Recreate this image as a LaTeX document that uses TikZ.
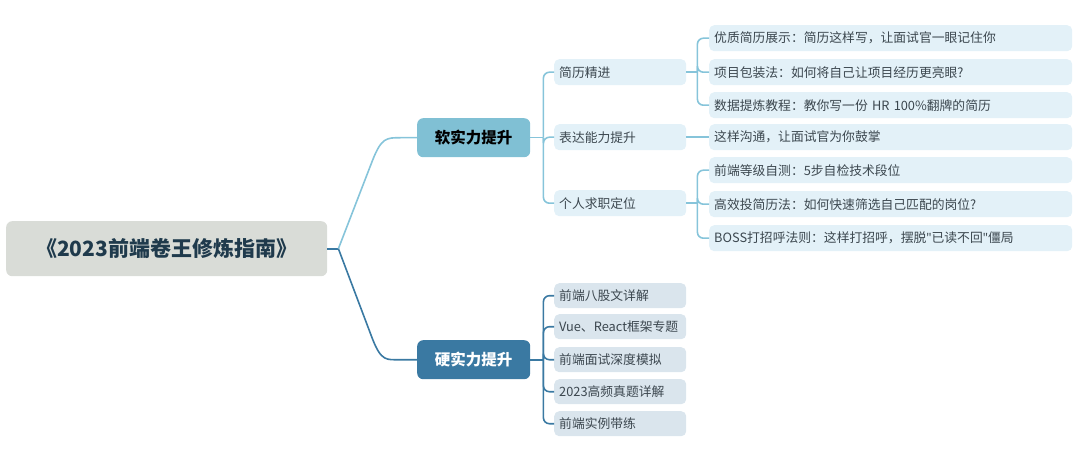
\documentclass[tikz,border=0pt]{standalone}
\usepackage{fontspec}
\setmainfont{Noto Sans CJK SC}
\newfontfamily\latq{Noto Sans}
\usetikzlibrary{calc}
\definecolor{rootfill}{HTML}{D9DCD7}
\definecolor{roottext}{HTML}{1F3A4C}
\definecolor{softfill}{HTML}{80C0D4}
\definecolor{hardfill}{HTML}{3A79A2}
\definecolor{lightline}{HTML}{86C4DA}
\definecolor{darkline}{HTML}{3A79A2}
\definecolor{upfill}{HTML}{E3F1F8}
\definecolor{lowfill}{HTML}{DAE5ED}
\definecolor{txt}{HTML}{3C474F}
\tikzset{
  box/.style={rounded corners=5pt, anchor=north west, inner xsep=5pt, inner ysep=0pt,
    align=left, font=\fontsize{12.8}{15}\selectfont, text=txt},
  lthree/.style={box, fill=upfill, text width=353pt, minimum height=26pt},
  ltwoup/.style={box, fill=upfill, text width=122pt, minimum height=26pt},
  ltwolow/.style={box, fill=lowfill, text width=122pt, minimum height=25pt},
  lone/.style={rounded corners=6pt, anchor=north west, inner sep=0pt, minimum width=113pt,
    minimum height=39pt, font=\fontsize{15.5}{18}\selectfont\bfseries},
  lnk/.style={line width=1.6pt, rounded corners=6pt},
  ln/.style={line width=1.6pt},
}
\begin{document}
\begin{tikzpicture}[x=1pt,y=-1pt]
\useasboundingbox (0,0) rectangle (1080,468);
% root
\node[rounded corners=6pt, fill=rootfill, anchor=north west, minimum width=321pt, minimum height=55pt,
  inner sep=0pt, text=roottext, font=\fontsize{21}{24}\selectfont\bfseries] (root) at (6,221) {《2023前端卷王修炼指南》};
% level 1
\node[lone, fill=softfill, text=black] (soft) at (417,118) {软实力提升};
\node[lone, fill=hardfill, text=white] (hard) at (417,340) {硬实力提升};
% level 2 upper
\node[ltwoup] (s1) at (554,59) {简历精进};
\node[ltwoup] (s2) at (554,124) {表达能力提升};
\node[ltwoup] (s3) at (554,190) {个人求职定位};
% level 3
\node[lthree] (a1) at (709,25) {优质简历展示：简历这样写，让面试官一眼记住你};
\node[lthree] (a2) at (709,59) {项目包装法：如何将自己让项目经历更亮眼?};
\node[lthree] (a3) at (709,92) {数据提炼教程：教你写一份 HR 100\%翻牌的简历};
\node[lthree] (b1) at (709,124) {这样沟通，让面试官为你鼓掌};
\node[lthree] (c1) at (709,157) {前端等级自测：5步自检技术段位};
\node[lthree] (c2) at (709,191) {高效投简历法：如何快速筛选自己匹配的岗位?};
\node[lthree] (c3) at (709,225) {BOSS打招呼法则：这样打招呼，摆脱{\latq\char"0022}已读不回{\latq\char"0022}僵局};
% level 2 lower
\node[ltwolow] (h1) at (554,283) {前端八股文详解};
\node[ltwolow] (h2) at (554,314) {Vue、React框架专题};
\node[ltwolow] (h3) at (554,347) {前端面试深度模拟};
\node[ltwolow] (h4) at (554,379) {2023高频真题详解};
\node[ltwolow] (h5) at (554,411) {前端实例带练};
% junction coordinates
\path (root.east) ++(11,0) coordinate (rj);
\path (soft.east) ++(13,0) coordinate (sj);
\path (hard.east) ++(13,0) coordinate (hj);
\path (s1.east) ++(11,0) coordinate (s1j);
\path (s3.east) ++(11,0) coordinate (s3j);
\path (rj) ++(34,-88) coordinate (ru);
\path (rj) ++(62,-111) coordinate (ruc);
\path (rj) ++(34,90) coordinate (rd);
\path (rj) ++(62,111) coordinate (rdc);
% root connectors
\draw[ln, darkline] (root.east) -- (rj);
\draw[ln, lightline] (rj) -- (ru) .. controls ($(ru)+(9,-23)$) and ($(ruc)+(-14,0)$) .. (ruc) -- (soft.west);
\draw[ln, darkline] (rj) -- (rd) .. controls ($(rd)+(9,23)$) and ($(rdc)+(-14,0)$) .. (rdc) -- (hard.west);
% soft connectors
\draw[ln, lightline] (soft.east) -- (sj);
\foreach \c in {s1,s2,s3} \draw[lnk, lightline] (sj) |- (\c.west);
\draw[ln, lightline] (s1.east) -- (s1j);
\foreach \c in {a1,a2,a3} \draw[lnk, lightline] (s1j) |- (\c.west);
\draw[ln, lightline] (s2.east) -- (b1.west);
\draw[ln, lightline] (s3.east) -- (s3j);
\foreach \c in {c1,c2,c3} \draw[lnk, lightline] (s3j) |- (\c.west);
% hard connectors
\draw[ln, darkline] (hard.east) -- (hj);
\foreach \c in {h1,h2,h3,h4,h5} \draw[lnk, darkline] (hj) |- (\c.west);
\end{tikzpicture}
\end{document}
